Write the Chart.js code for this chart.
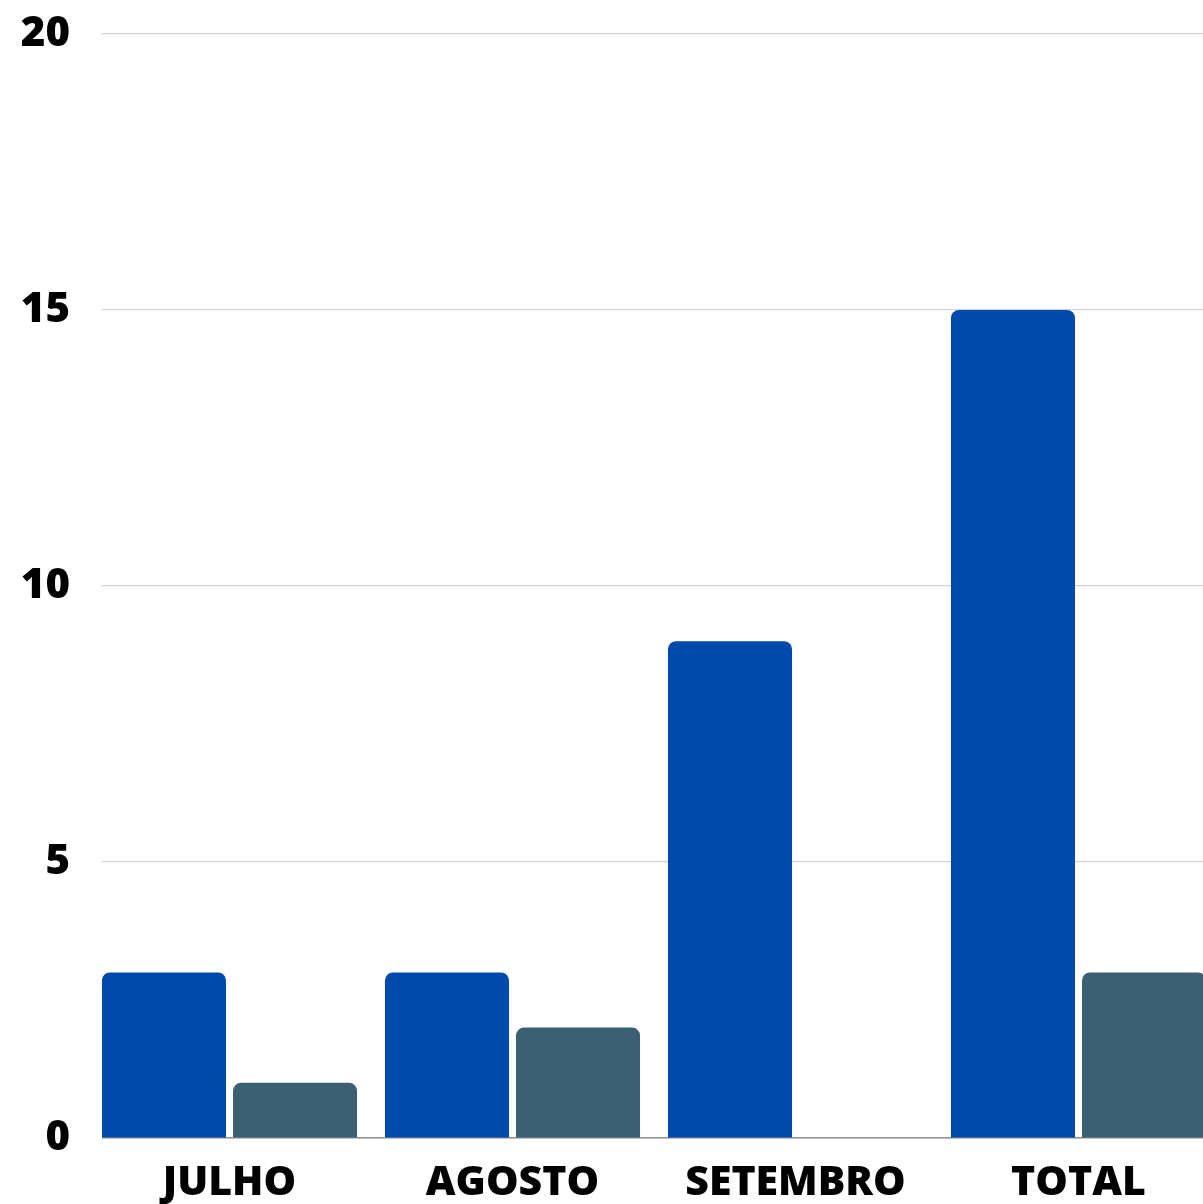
<!DOCTYPE html>
<html lang="pt">
<head>
<meta charset="utf-8">
<title>Julho – Total</title>
<script src="https://cdn.jsdelivr.net/npm/chart.js@4/dist/chart.umd.min.js"></script>
<style>
  html, body { margin: 0; padding: 0; background: #fff; overflow: hidden; }
  #wrap { width: 1203px; height: 1204px; overflow: hidden; }
  canvas { display: block; }
</style>
</head>
<body>
<div id="wrap"><canvas id="chart" width="1240" height="1204"></canvas></div>
<script>
'use strict';
// Dados: duas séries por mês + total.
const CATEGORIES = ['JULHO', 'AGOSTO', 'SETEMBRO', 'TOTAL'];
const SERIES_A = [3, 3, 9, 15];
const SERIES_B = [1, 2, 0, 3];
const Y_MIN = 0, Y_MAX = 20, Y_STEP = 5;

const BLUE = '#004AAD', SLATE = '#3A5F72';
Chart.defaults.font.family = "'Open Sans', 'DejaVu Sans', sans-serif";
Chart.defaults.color = '#000';

// Cache la bande entre le bord de la zone et la 1re barre (grille + axe commencent à la barre).
const trimStrip = {
  id: 'trimStrip',
  beforeDraw(chart) {
    const { ctx, chartArea: a, width, height } = chart;
    const bar = chart.getDatasetMeta(0).data[0];
    if (!bar) return;
    const x0 = bar.x - bar.width / 2;
    ctx.save();
    ctx.beginPath();
    ctx.rect(0, 0, width, height);
    ctx.rect(a.left - 1, a.top - 4, x0 - a.left + 1, a.bottom - a.top + 8);
    ctx.clip('evenodd');
  },
  afterDraw(chart) { chart.ctx.restore(); },
};

new Chart(document.getElementById('chart').getContext('2d'), {
  type: 'bar',
  data: {
    labels: CATEGORIES,
    datasets: [
      { label: 'Série 1', data: SERIES_A, backgroundColor: BLUE, borderRadius: 8, borderSkipped: 'start' },
      { label: 'Série 2', data: SERIES_B, backgroundColor: SLATE, borderRadius: 8, borderSkipped: 'start' },
    ],
  },
  options: {
    responsive: false, animation: false, devicePixelRatio: 1,
    categoryPercentage: 0.926, barPercentage: 0.9466,
    layout: { padding: { top: 34, right: 20, bottom: 0, left: 0 } },
    plugins: { legend: { display: false }, tooltip: { enabled: false } },
    scales: {
      x: {
        grid: { display: false, drawTicks: false },
        border: { display: true, color: '#8f8f8f', width: 1.5 },
        ticks: { padding: 21, font: { size: 41, weight: 800 }, color: '#000', maxRotation: 0 },
        afterFit: s => { s.height = 66; },
      },
      y: {
        min: Y_MIN, max: Y_MAX,
        border: { display: false },
        grid: { color: '#d2d2d2', lineWidth: 1.2, drawTicks: false },
        ticks: { stepSize: Y_STEP, padding: 18, font: { size: 42, weight: 800 }, color: '#000' },
        afterFit: s => { s.width = 88; s.paddingTop = 0; s.paddingBottom = 0; },
      },
    },
  },
  plugins: [trimStrip],
});
</script>
</body>
</html>
